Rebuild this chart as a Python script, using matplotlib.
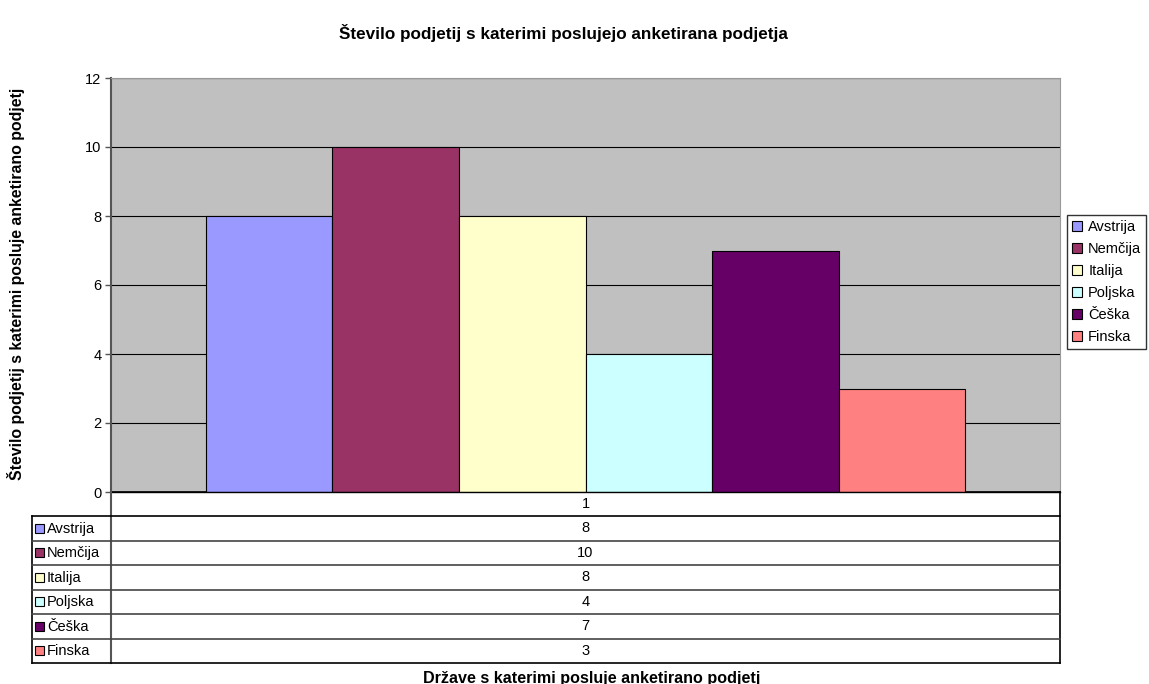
import matplotlib
matplotlib.use('Agg')
import matplotlib.pyplot as plt
from matplotlib.patches import Rectangle

countries = ['Avstrija', 'Nemčija', 'Italija', 'Poljska', 'Češka', 'Finska']
values = [8, 10, 8, 4, 7, 3]
colors = ['#9999FF', '#993366', '#FFFFCC', '#CCFFFF', '#660066', '#FF8080']
category = ['1']
yticks = [0, 2, 4, 6, 8, 10, 12]
title = 'Število podjetij s katerimi poslujejo anketirana podjetja'
ylabel = 'Število podjetij s katerimi posluje anketirano podjetj'
xlabel = 'Države s katerimi posluje anketirano podjetj'

plt.rcParams['font.family'] = ['Liberation Sans', 'DejaVu Sans']

W, H = 1149, 684
fig = plt.figure(figsize=(W / 100, H / 100), dpi=100)


def fx(px):
    return px / W


def fy(py):
    return 1 - py / H


L, R, T, B = 111, 1060, 78, 492
ax = fig.add_axes([fx(L), fy(B), (R - L) / W, (B - T) / H])
ax.set_facecolor('#C0C0C0')
n = len(countries)
handles = []
for i, (c, v, col) in enumerate(zip(countries, values, colors)):
    h = ax.bar(i - (n - 1) / 2, v, width=1, color=col, edgecolor='black',
               linewidth=0.8, label=c, zorder=3)
    handles.append(h)
ax.set_xlim(-(n + 1.5) / 2, (n + 1.5) / 2)
ax.set_ylim(0, 12)
ax.set_yticks(yticks)
ax.yaxis.grid(True, color='black', linewidth=0.8)
ax.set_axisbelow(True)
ax.set_xticks([])
ax.tick_params(axis='y', length=4, width=1, colors='#555555', labelcolor='black',
               labelsize=10.5, pad=3)
for s in ['top', 'right']:
    ax.spines[s].set_color('#999999')
    ax.spines[s].set_linewidth(0.8)
ax.spines['left'].set_color('#555555')
ax.spines['left'].set_linewidth(1.5)
ax.spines['bottom'].set_color('black')
ax.spines['bottom'].set_linewidth(1.2)

# title & labels
fig.text(fx(563), fy(33), title, ha='center', va='center', fontsize=12.3, fontweight='bold')
fig.text(fx(16), fy(284), ylabel, ha='center', va='center', rotation=90,
         fontsize=11.4, fontweight='bold')
fig.text(fx(592), fy(678), xlabel, ha='center', va='center', fontsize=11.6, fontweight='bold')

# data table
tax = fig.add_axes([0, 0, 1, 1], zorder=5)
tax.set_xlim(0, W)
tax.set_ylim(H, 0)
tax.axis('off')
tx0, tx1, tbl_top, hdr_bot, tbl_bot = 32, 1060, 492, 516, 663
rowh = (tbl_bot - hdr_bot) / n
lc = 'black'
# header row
tax.plot([L, tx1], [tbl_top, tbl_top], color=lc, lw=1)
tax.plot([L, L], [tbl_top, tbl_bot], color='#555555', lw=1.5)
tax.plot([tx1, tx1], [tbl_top, tbl_bot], color=lc, lw=1.2)
tax.text((L + tx1) / 2, (tbl_top + hdr_bot) / 2, category[0], ha='center', va='center', fontsize=10.5)
# rows
tax.plot([tx0, tx0], [hdr_bot, tbl_bot], color=lc, lw=1.2)
for k in range(n + 1):
    y = hdr_bot + k * rowh
    tax.plot([tx0, tx1], [y, y], color=lc if k in (0, n) else '#444444', lw=1.2)
for k, (c, v, col) in enumerate(zip(countries, values, colors)):
    yc = hdr_bot + (k + 0.5) * rowh
    tax.add_patch(Rectangle((35, yc - 4.5), 9, 9, facecolor=col, edgecolor='black', lw=0.8))
    tax.text(47, yc + 0.5, c, ha='left', va='center', fontsize=10.5)
    tax.text((L + tx1) / 2, yc, str(v), ha='center', va='center', fontsize=10.5)

# legend
leg = fig.legend(handles=handles, labels=countries, loc='upper left',
                 bbox_to_anchor=(fx(1067), fy(215)), frameon=True, fancybox=False,
                 edgecolor='black', fontsize=10.5, handlelength=0.65, handleheight=0.65,
                 handletextpad=0.45, labelspacing=0.55, borderpad=0.35, borderaxespad=0)
leg.get_frame().set_linewidth(1)

fig.savefig('out.png', dpi=100)
